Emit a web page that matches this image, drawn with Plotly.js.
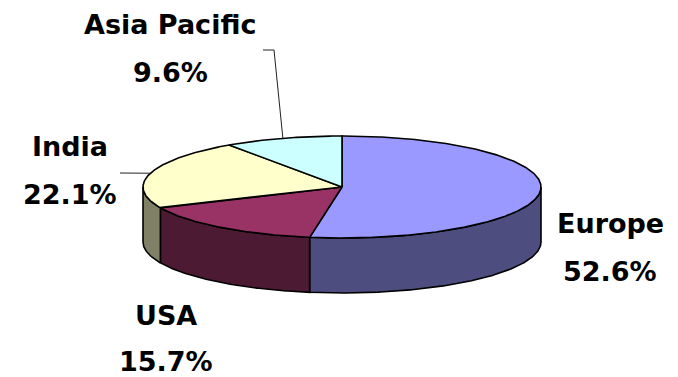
<!DOCTYPE html>
<html>
<head>
<meta charset="utf-8">
<script src="https://cdn.plot.ly/plotly-3.0.1.min.js"></script>
<style>html,body{margin:0;padding:0;background:#fff;}#chart{width:678px;height:377px;}</style>
</head>
<body>
<div id="chart"></div>
<script>
// ---- data ----
const regions = ["Europe", "USA", "India", "Asia Pacific"];
const shares = [52.6, 15.7, 22.1, 9.6];
const topColors = ["#9999FF", "#993366", "#FFFFCC", "#CCFFFF"];
const sideColors = ["#4D4D80", "#4D1A33", "#808066", "#667F80"];

// ---- geometry / style (layout) ----
const W = 678, H = 377;
const cx = 342, cy = 187, rx = 199, ry = 51, depth = 55;
// label placement (cap-centre y) per region
const labelPos = {
  "Europe":       {x: 610, y1: 223, y2: 271},
  "USA":          {x: 166, y1: 315, y2: 361},
  "India":        {x: 70,  y1: 146, y2: 194},
  "Asia Pacific": {x: 170, y1: 24,  y2: 72}
};
// leader line label-side points (null = no leader)
const leaderEnds = {
  "Europe": null,
  "USA": null,
  "India": [[120, 173]],
  "Asia Pacific": [[263, 50], [274, 50]]
};

function pt(theta, dy) {
  const r = theta * Math.PI / 180;
  return [cx + rx * Math.sin(r), cy + (dy || 0) - ry * Math.cos(r)];
}
function arc(a, b, dy) {
  const pts = [];
  const n = Math.max(2, Math.ceil(Math.abs(b - a) / 0.5));
  for (let i = 0; i <= n; i++) pts.push(pt(a + (b - a) * i / n, dy));
  return pts;
}

const total = shares.reduce((s, v) => s + v, 0);
let cum = 0;
const slices = shares.map((v, i) => {
  const a = cum / total * 360;
  cum += v;
  const b = cum / total * 360;
  return {name: regions[i], a, b, mid: (a + b) / 2, i};
});

const traces = [];
// side walls (front half only: 90..270 deg)
slices.forEach(s => {
  const a = Math.max(s.a, 90), b = Math.min(s.b, 270);
  if (b <= a) return;
  const top = arc(a, b, 0);
  const bot = arc(b, a, depth);
  const poly = top.concat(bot);
  poly.push(poly[0]);
  traces.push({
    type: "scatter", mode: "lines", fill: "toself",
    x: poly.map(p => p[0]), y: poly.map(p => p[1]),
    fillcolor: sideColors[s.i], line: {color: "#000", width: 1.6},
    hoverinfo: "skip", showlegend: false
  });
});
// top faces
slices.forEach(s => {
  const poly = [[cx, cy]].concat(arc(s.a, s.b, 0));
  poly.push([cx, cy]);
  traces.push({
    type: "scatter", mode: "lines", fill: "toself",
    x: poly.map(p => p[0]), y: poly.map(p => p[1]),
    fillcolor: topColors[s.i], line: {color: "#000", width: 1.6},
    hoverinfo: "skip", showlegend: false, name: s.name
  });
});
// leader lines
slices.forEach(s => {
  const ends = leaderEnds[s.name];
  if (!ends) return;
  const pts = ends.concat([pt(s.mid, 0)]);
  traces.push({
    type: "scatter", mode: "lines",
    x: pts.map(p => p[0]), y: pts.map(p => p[1]),
    line: {color: "#222", width: 1},
    hoverinfo: "skip", showlegend: false
  });
});

const annotations = [];
slices.forEach(s => {
  const lp = labelPos[s.name];
  const pct = (shares[s.i] / total * 100).toFixed(1) + "%";
  annotations.push({x: lp.x, y: lp.y1, xref: "x", yref: "y", text: "<b>" + s.name + "</b>",
    showarrow: false, xanchor: "center", yanchor: "middle",
    font: {family: "DejaVu Sans", size: 27, color: "#000"}});
  annotations.push({x: lp.x, y: lp.y2, xref: "x", yref: "y", text: "<b>" + pct + "</b>",
    showarrow: false, xanchor: "center", yanchor: "middle",
    font: {family: "DejaVu Sans", size: 27, color: "#000"}});
});

const layout = {
  width: W, height: H,
  margin: {l: 0, r: 0, t: 0, b: 0},
  paper_bgcolor: "#fff", plot_bgcolor: "#fff",
  xaxis: {range: [0, W], visible: false, fixedrange: true},
  yaxis: {range: [H, 0], visible: false, fixedrange: true},
  annotations: annotations,
  showlegend: false
};
Plotly.newPlot("chart", traces, layout, {staticPlot: true, displayModeBar: false});
</script>
</body>
</html>
